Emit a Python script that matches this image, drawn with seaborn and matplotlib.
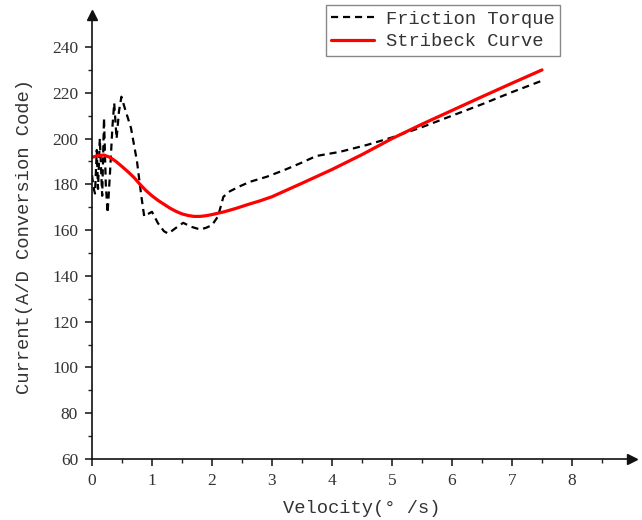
import matplotlib
matplotlib.use("Agg")
import matplotlib.pyplot as plt
import seaborn as sns
import pandas as pd

# ---- data ----
friction_v = [0.0, 0.03, 0.05, 0.08, 0.10, 0.13, 0.17, 0.20, 0.23, 0.26, 0.30, 0.34,
              0.37, 0.41, 0.45, 0.49, 0.55, 0.65, 0.75, 0.82, 0.87, 0.93, 1.0, 1.1,
              1.2, 1.27, 1.4, 1.52, 1.65, 1.8, 1.9, 2.0, 2.1, 2.19, 2.3, 2.45,
              2.63, 2.91, 3.2, 3.47, 3.74, 4.13, 4.58, 5.0, 5.5, 6.0, 6.5, 7.0, 7.5]
friction_i = [184, 178, 176, 195, 178, 200, 175, 209, 180, 167.5, 185, 205,
              215.5, 200, 212, 218.3, 213, 204.6, 190, 175.3, 166, 167, 168, 163,
              159.5, 158.5, 161, 163.2, 161.5, 160.3, 161, 162.2, 166, 174.6, 177, 179,
              181.1, 183.3, 186.2, 189.2, 192.4, 194.2, 197.2, 200.5, 205, 210, 215, 220.3, 225.3]

stribeck_v = [0.0, 0.1, 0.2, 0.3, 0.4, 0.5, 0.6, 0.7, 0.8, 0.9, 1.0, 1.1, 1.2, 1.3,
              1.4, 1.5, 1.6, 1.7, 1.8, 1.9, 2.0, 2.2, 2.4, 2.6, 2.8, 3.0, 3.5,
              4.0, 4.5, 5.0, 5.5, 6.0, 6.5, 7.0, 7.5]
stribeck_i = [191.8, 192.6, 192.8, 191.8, 190.0, 187.8, 185.5, 183.0, 180.0, 177.3, 175.0,
              173.0, 171.3, 169.6, 168.2, 167.1, 166.4, 166.0, 166.0, 166.3, 166.8, 168.0,
              169.5, 171.2, 172.8, 174.6, 180.5, 186.5, 193.0, 200.0, 206.3, 212.3, 218.3,
              224.2, 230.0]

x_ticks = [0, 1, 2, 3, 4, 5, 6, 7, 8]
y_ticks = [60, 80, 100, 120, 140, 160, 180, 200, 220, 240]

x_label = "Velocity(° /s)"
y_label = "Current(A/D Conversion Code)"
legend_labels = ["Friction Torque", "Stribeck Curve"]

# ---- plotting ----
sns.set_style("ticks")
plt.rcParams["font.family"] = ["Liberation Serif", "DejaVu Sans"]

fig = plt.figure(figsize=(6.42, 5.2), dpi=100)
ax = fig.add_axes([92 / 642, 1 - 459 / 520, (632 - 92) / 642, (459 - 15) / 520])

df_f = pd.DataFrame({"v": friction_v, "i": friction_i})
df_s = pd.DataFrame({"v": stribeck_v, "i": stribeck_i})

sns.lineplot(data=df_f, x="v", y="i", ax=ax, color="black", lw=1.6,
             linestyle=(0, (3.2, 2.2)), label=legend_labels[0], sort=False)
sns.lineplot(data=df_s, x="v", y="i", ax=ax, color="#ff0000", lw=2.3,
             label=legend_labels[1], sort=False)

ax.set_xlim(0, 9.0)
ax.set_ylim(60, 254)
ax.set_xticks(x_ticks)
ax.set_yticks(y_ticks)
ax.set_xticks([0.5 + k for k in range(9)], minor=True)
ax.set_yticks([70 + 20 * k for k in range(9)], minor=True)
ax.tick_params(which="major", direction="out", length=5, width=1.2, labelsize=12.5,
               colors="#222222", labelcolor="#333333", pad=5)
ax.tick_params(which="minor", direction="out", length=3, width=1.0, colors="#222222")

for s in ["top", "right"]:
    ax.spines[s].set_visible(False)
for s in ["left", "bottom"]:
    ax.spines[s].set_linewidth(1.2)
    ax.spines[s].set_color("#111111")

# arrow heads
ax.plot(1, 0, marker=">", color="#111111", markersize=7, transform=ax.transAxes, clip_on=False)
ax.plot(0, 1, marker="^", color="#111111", markersize=7, transform=ax.transAxes, clip_on=False)

mono = ["Liberation Mono", "DejaVu Sans Mono"]
ax.set_xlabel(x_label, fontsize=13.5, family=mono, color="#333333", labelpad=8)
ax.set_ylabel(y_label, fontsize=13.5, family=mono, color="#333333", labelpad=14)

leg = ax.legend(loc="upper right", bbox_to_anchor=(560 / 642, 1 - 5 / 520),
                bbox_transform=fig.transFigure, frameon=True, fancybox=False,
                framealpha=1, edgecolor="#888888", handlelength=2.3,
                prop={"family": mono, "size": 13.5}, borderpad=0.3, labelspacing=0.3,
                handletextpad=0.6, borderaxespad=0)
leg.get_frame().set_linewidth(1.0)
for t in leg.get_texts():
    t.set_color("#333333")

fig.savefig("out.png", dpi=100)
